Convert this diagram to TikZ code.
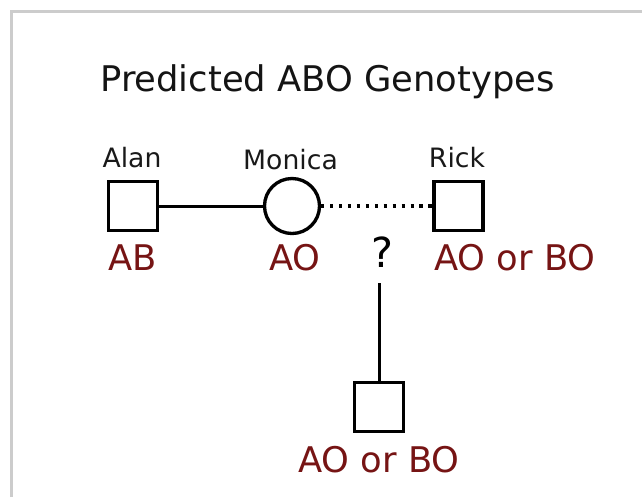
\documentclass[tikz,border=0pt]{standalone}
\usepackage{fontspec}
\setmainfont{DejaVu Sans}
\definecolor{gtred}{RGB}{118,20,20}
\definecolor{framegray}{RGB}{204,204,204}
\tikzset{every picture/.style={line width=0.75pt}}
\tikzset{
  male/.style={draw, rectangle, line width=2.5pt, minimum size=36.75pt, inner sep=0pt},
  female/.style={draw, circle, line width=2.5pt, minimum size=41.25pt, inner sep=0pt},
  namelbl/.style={anchor=base, inner sep=0.75pt, text=black!90, font=\fontsize{20pt}{24pt}\selectfont},
  genolbl/.style={anchor=base, inner sep=0.75pt, text=gtred, font=\fontsize{26.5pt}{30pt}\selectfont},
  tie/.style={line width=2.25pt},
  maybetie/.style={line width=2.4pt, dash pattern=on 2.4pt off 4.3pt},
}

\begin{document}
\begin{tikzpicture}[x=0.75pt,y=0.75pt,yscale=-1,xscale=1]
	\useasboundingbox (0,0) rectangle (642,497);

	%Frame
	\draw [color=framegray, line width=2.25pt] (11.5,497) -- (11.5,11.5) -- (642,11.5) ;

	% Text Node
	\node (title) [anchor=base, inner sep=0.75pt, text=black!92, font=\fontsize{26.5pt}{30pt}\selectfont] at (327.5,91) {Predicted ABO Genotypes};

	%Shapes
	\node (alan) [male] at (133,206) {};
	\node (monica) [female] at (292,206) {};
	\node (rick) [male] at (458.5,206) {};
	\node (child) [male] at (379,407) {};
	\coordinate (drop) at (379,283);

	%Straight Lines
	\draw [tie] (alan) -- (monica) ;
	\draw [maybetie] (monica) -- (rick) ;
	\draw [tie] (drop) -- (child) ;

	% Text Node
	\node (alanname) [namelbl] at (132,167) {Alan};
	% Text Node
	\node (monicaname) [namelbl] at (290.5,169) {Monica};
	% Text Node
	\node (rickname) [namelbl] at (457,167) {Rick};
	% Text Node
	\node (alangeno) [genolbl] at (133,270) {AB};
	% Text Node
	\node (monicageno) [genolbl] at (295,270) {AO};
	% Text Node
	\node (rickgeno) [genolbl] at (515,270) {AO or BO};
	% Text Node
	\node (unknown) [anchor=base, inner sep=0.75pt, font=\fontsize{31pt}{36pt}\selectfont] at (382.5,267) {?};
	% Text Node
	\node (childgeno) [genolbl] at (379,472) {AO or BO};

\end{tikzpicture}
\end{document}
